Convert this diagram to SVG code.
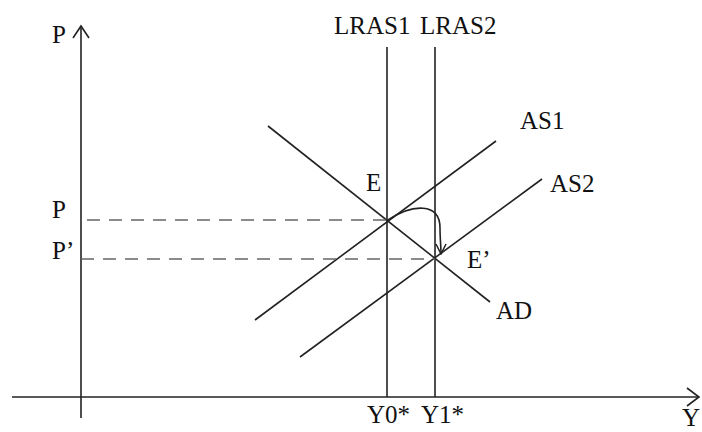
<svg xmlns="http://www.w3.org/2000/svg" width="702" height="432" viewBox="0 0 702 432">
<style>
.ln{stroke:#222;stroke-width:1.6;fill:none}
.ds{stroke:#666;stroke-width:1.6;stroke-dasharray:13 9;fill:none}
text{font-family:"Liberation Serif","Times New Roman",serif;font-size:25px;fill:#111}
</style>
<defs>
<marker id="ah" viewBox="0 0 12 12" refX="11" refY="6" markerWidth="12" markerHeight="12" markerUnits="userSpaceOnUse" orient="auto">
<path d="M1,1 L11,6 L1,11" fill="none" stroke="#222" stroke-width="1.5"/>
</marker>
</defs>
<rect width="702" height="432" fill="#fff"/>
<g id="axes">
<line class="ln" x1="81" y1="418" x2="81" y2="27"/>
<path class="ln" d="M73,38 L81,26 L89,38"/>
<line class="ln" x1="12" y1="397" x2="698" y2="397"/>
<path class="ln" d="M687,388 L699,397 L687,406"/>
<text x="52" y="43">P</text>
<text x="682" y="426">Y</text>
</g>
<g id="LRAS1">
<line class="ln" x1="387" y1="47" x2="387" y2="397"/>
<text x="334" y="34">LRAS1</text>
<text x="367" y="423">Y0*</text>
</g>
<g id="LRAS2">
<line class="ln" x1="435" y1="47" x2="435" y2="397"/>
<text x="420" y="34">LRAS2</text>
<text x="421" y="423">Y1*</text>
</g>
<g id="AS1">
<line class="ln" x1="255" y1="320" x2="496" y2="141"/>
<text x="520" y="129">AS1</text>
</g>
<g id="AS2">
<line class="ln" x1="300" y1="357" x2="542" y2="179"/>
<text x="550" y="192">AS2</text>
</g>
<g id="AD">
<line class="ln" x1="268" y1="126" x2="490" y2="302"/>
<text x="496" y="319">AD</text>
</g>
<g id="E">
<text x="366" y="191">E</text>
</g>
<g id="E2">
<text x="467" y="268">E’</text>
</g>
<g id="P">
<text x="52" y="218">P</text>
</g>
<g id="P2">
<text x="52" y="259">P’</text>
</g>
<g id="connectors">
<line class="ds" x1="87" y1="220" x2="387" y2="220"/>
<line class="ds" x1="81" y1="259" x2="435" y2="259"/>
<path class="ln" d="M388,220 C412,204 440,202 440,228 C440,238 441,246 441,254" marker-end="url(#ah)"/>
</g>
</svg>
